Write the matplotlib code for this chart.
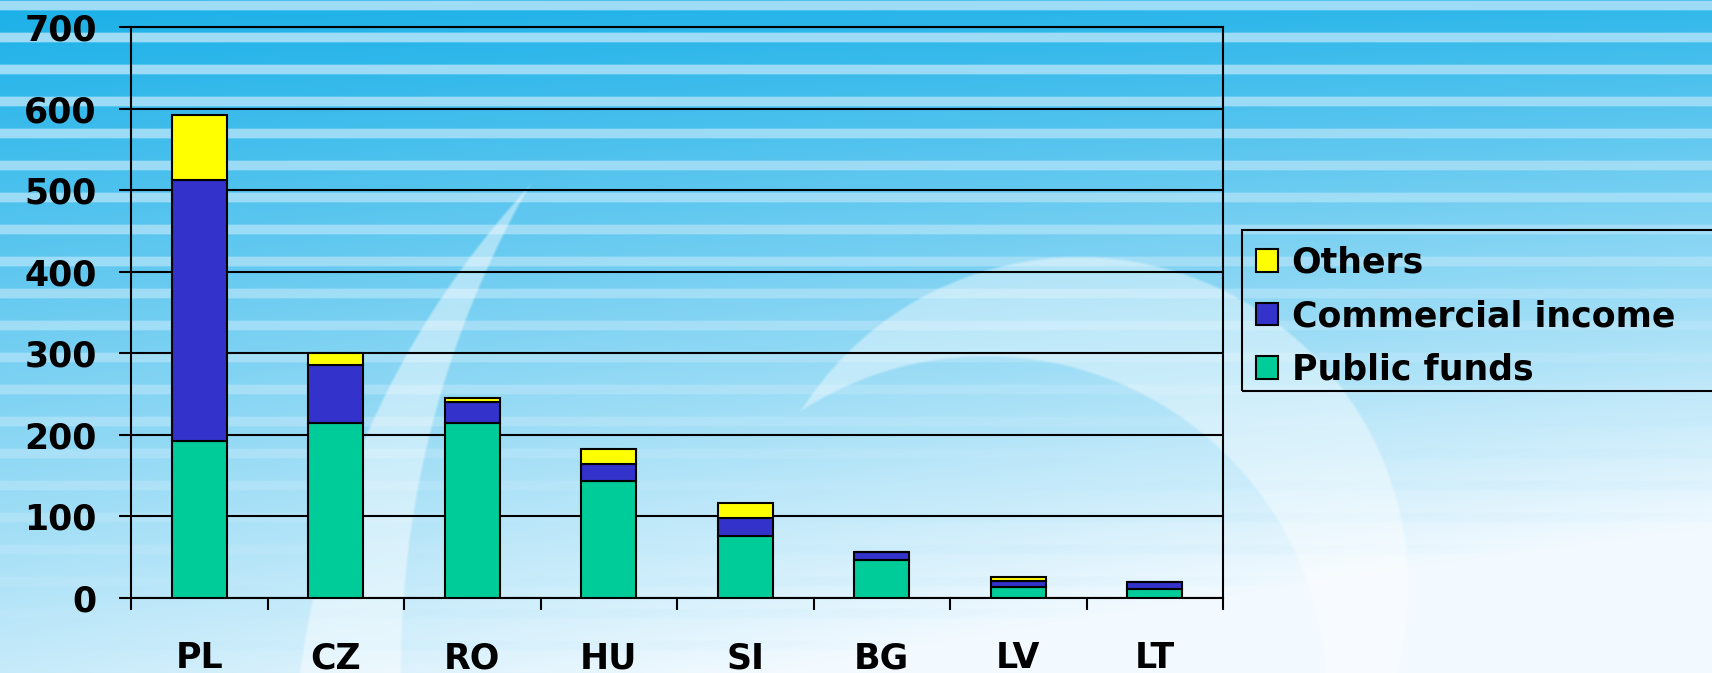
import numpy as np
import matplotlib
matplotlib.use("Agg")
import matplotlib.pyplot as plt
from matplotlib.patches import Patch, Rectangle

# Funding sources by country
countries = ["PL", "CZ", "RO", "HU", "SI", "BG", "LV", "LT"]
public_funds = [193, 215, 215, 144, 76, 46, 14, 11]
commercial_income = [319, 71, 25, 20, 22, 10, 7, 9]
others = [80, 14, 5, 19, 19, 0, 5, 0]
y_ticks = [0, 100, 200, 300, 400, 500, 600, 700]

series_names = ["Others", "Commercial income", "Public funds"]
colors = {"Public funds": "#00CC99", "Commercial income": "#3333CC", "Others": "#FFFF00"}

W, H = 1712, 673


def circle3(p1, p2, p3):
    (x1, y1), (x2, y2), (x3, y3) = p1, p2, p3
    a = np.array([[x2 - x1, y2 - y1], [x3 - x1, y3 - y1]], float) * 2
    b = np.array([x2**2 - x1**2 + y2**2 - y1**2, x3**2 - x1**2 + y3**2 - y1**2], float)
    cx, cy = np.linalg.solve(a, b)
    return cx, cy, np.hypot(x1 - cx, y1 - cy)


def make_background():
    yy, xx = np.mgrid[0:H, 0:W].astype(float)
    u, v = xx / W, yy / H
    t = np.clip(0.8 * v + 0.35 * u * v + 0.1 * u, 0, 1)
    c0 = np.array([0.10, 0.69, 0.91])
    c1 = np.array([0.95, 0.98, 1.0])
    img = c0 * (1 - t[..., None]) + c1 * t[..., None]

    # light horizontal stripes, fading towards the bottom
    d = np.abs(((yy - 37 + 16) % 32) - 16)
    band = np.clip((5.5 - d) / 1.5, 0, 1)
    strength = 0.8 * (1 - t) ** 0.6 * band
    stripe_col = np.array([0.76, 0.91, 0.98])
    img = img * (1 - strength[..., None]) + stripe_col * strength[..., None]

    white = np.array([1.0, 1.0, 1.0])

    def crescent(outer, inner, alpha):
        ox, oy, orad = circle3(*outer)
        ix, iy, irad = circle3(*inner)
        d_out = orad - np.hypot(xx - ox, yy - oy)
        d_in = np.hypot(xx - ix, yy - iy) - irad
        return alpha * np.clip(d_out / 3, 0, 1) * np.clip(d_in / 3, 0, 1)

    m1 = crescent([(298, 673), (367, 429), (536, 176)],
                  [(402, 673), (432, 429), (536, 176)], 0.45)
    m2 = crescent([(796, 415), (1057, 256), (1408, 611)],
                  [(796, 415), (923, 363), (1236, 467)], 0.4)
    for m in (m1, m2):
        img = img * (1 - m[..., None]) + white * m[..., None]
    return np.clip(img, 0, 1)


fig = plt.figure(figsize=(W / 100, H / 100), dpi=100)

bg = fig.add_axes([0, 0, 1, 1], zorder=0)
bg.imshow(make_background(), aspect="auto", interpolation="bilinear")
bg.axis("off")

ax = fig.add_axes([131 / W, 1 - 598 / H, (1223 - 131) / W, (598 - 27) / H], zorder=1)
ax.patch.set_alpha(0)

x = np.arange(len(countries))
bw = 0.4
edge = dict(edgecolor="black", linewidth=1.5, zorder=3)
pf = np.array(public_funds, float)
ci = np.array(commercial_income, float)
ot = np.array(others, float)
ax.bar(x, pf, bw, color=colors["Public funds"], **edge)
ax.bar(x, ci, bw, bottom=pf, color=colors["Commercial income"], **edge)
ax.bar(x, ot, bw, bottom=pf + ci, color=colors["Others"], **edge)

ax.set_xlim(-0.5, len(countries) - 0.5)
ax.set_ylim(0, 700)
ax.set_yticks(y_ticks)
ax.set_yticklabels([str(v) for v in y_ticks])
ax.grid(axis="y", color="black", linewidth=1.5, zorder=1)
ax.set_axisbelow(True)

ax.set_xticks(x)
ax.set_xticklabels(countries)
ax.set_xticks(np.arange(-0.5, len(countries), 1), minor=True)
ax.tick_params(axis="x", which="major", length=0, pad=31)
ax.tick_params(axis="x", which="minor", length=8.6, width=1.5, color="black", direction="out")
ax.tick_params(axis="y", length=8.6, width=1.5, color="black", direction="out", pad=16)
for lab in ax.get_xticklabels() + ax.get_yticklabels():
    lab.set_fontsize(25)
    lab.set_fontweight("bold")
    lab.set_color("black")
for sp in ax.spines.values():
    sp.set_color("black")
    sp.set_linewidth(1.5)

# legend box runs past the right edge of the figure
fig.add_artist(Rectangle((1242 / W, 1 - 391 / H), (1760 - 1242) / W, (391 - 230) / H,
                         transform=fig.transFigure, facecolor="none", edgecolor="black",
                         linewidth=1.5, zorder=4, clip_on=False))
handles = [Patch(facecolor=colors[n], edgecolor="black", linewidth=1.5) for n in series_names]
leg = fig.legend(handles, series_names, loc="upper left",
                 bbox_to_anchor=(1242 / W, 1 - 232 / H), frameon=False,
                 prop={"weight": "bold", "size": 25}, handlelength=0.63, handleheight=0.63,
                 handletextpad=0.4, borderpad=0.4, labelspacing=0.56, borderaxespad=0)
leg.set_zorder(5)

fig.savefig("out.png", dpi=100)
